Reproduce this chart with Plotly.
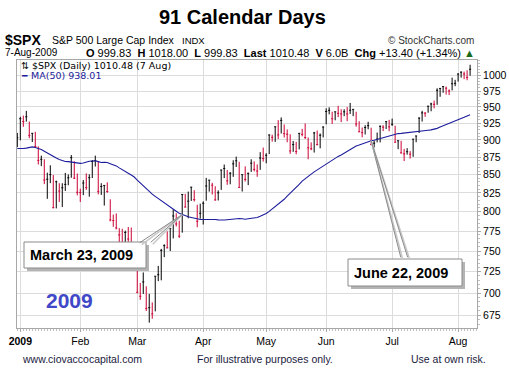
import math
import pandas as pd
import plotly.graph_objects as go

# ---------------- data ----------------
# closes from Oct 21 2008 to Dec 30 2008 (only used for the 50-day moving average)
prior_closes = [955.05, 896.78, 908.11, 876.77, 848.92, 940.51, 930.09, 954.09, 968.75,
                966.30, 1005.75, 952.77, 904.88, 930.99, 919.21, 898.95, 852.30, 911.29, 873.29,
                850.75, 859.12, 806.58, 752.44, 800.03, 851.81, 857.39, 887.68, 896.24,
                816.21, 848.81, 870.74, 845.22, 876.07, 909.70, 888.67, 899.24, 873.59, 879.73,
                868.57, 913.18, 904.42, 885.28, 887.88, 871.63, 863.16, 868.15, 872.80, 869.42, 890.64]

holidays = ["2009-01-01", "2009-01-19", "2009-02-16", "2009-04-10", "2009-05-25", "2009-07-03"]
dates = [d for d in pd.bdate_range("2008-12-31", "2009-08-07") if d.strftime("%Y-%m-%d") not in holidays]

closes = [903.25,
          931.80, 927.45, 934.70, 906.65, 909.73, 890.35, 870.26, 871.79, 842.62, 843.74,
          850.12, 805.22, 840.24, 827.50, 831.95, 836.57, 845.71, 874.09, 845.14, 825.88,
          825.44, 838.51, 832.23, 845.85, 868.60, 869.89, 827.16, 833.74, 835.19, 826.84,
          789.17, 788.42, 778.94, 770.05, 743.33, 773.14, 764.90, 752.83, 735.09,
          700.82, 696.33, 712.87, 682.55, 683.38, 676.53, 719.60, 721.36, 750.74, 756.55,
          753.89, 778.12, 794.35, 784.04, 768.54, 822.92, 806.12, 813.88, 832.86, 815.94, 787.53, 797.87,
          811.08, 834.38, 842.50, 835.48, 815.55, 825.16, 856.56, 858.73, 841.50, 852.06,
          865.30, 869.60, 832.39, 850.08, 843.55, 851.92, 866.23, 857.51, 855.16, 873.64, 872.81,
          877.52, 907.24, 903.80, 919.53, 907.39, 929.23, 909.24, 908.35, 883.92, 893.07,
          882.88, 909.71, 908.13, 903.47, 888.33, 887.00, 910.33, 893.06, 906.83, 919.14,
          942.87, 944.74, 931.76, 942.46, 940.09, 939.14, 942.43, 939.15, 944.89, 946.21,
          923.72, 911.97, 910.71, 918.37, 921.23, 893.04, 895.10, 900.94, 920.26, 918.90, 927.23, 919.32,
          923.33, 896.42, 898.72, 881.03, 879.56, 882.68, 879.13, 901.05, 905.84, 932.68,
          940.74, 940.38, 951.13, 954.58, 954.07, 976.29, 979.26, 982.18, 979.62, 975.15, 986.75, 987.48,
          1002.63, 1005.65, 1002.72, 997.08, 1010.48]

highs = [910.32,
         934.73, 936.63, 943.85, 927.45, 910.00, 911.93, 890.40, 877.02, 871.79, 852.85,
         863.23, 849.64, 841.72, 838.23, 838.22, 852.53, 850.45, 877.86, 868.89, 851.66,
         830.78, 842.60, 851.85, 850.55, 870.75, 877.02, 868.05, 838.22, 835.48, 839.43,
         816.38, 796.17, 797.58, 778.69, 777.85, 775.49, 780.12, 779.42, 751.27,
         729.57, 711.67, 724.12, 707.80, 699.09, 689.38, 719.60, 731.92, 752.63, 758.29,
         774.53, 778.12, 803.04, 797.92, 788.13, 823.37, 823.65, 826.78, 832.98, 828.68, 809.07, 810.48,
         813.62, 845.61, 842.50, 838.74, 834.07, 828.42, 856.91, 864.31, 856.53, 853.67,
         870.35, 875.63, 868.27, 850.09, 861.78, 852.87, 871.80, 868.83, 864.48, 882.06, 888.70,
         880.48, 907.85, 907.70, 919.78, 929.58, 933.77, 922.99, 915.57, 908.35, 898.36,
         896.97, 910.00, 916.39, 924.60, 903.47, 896.30, 911.76, 913.84, 909.45, 920.02,
         947.77, 949.38, 942.51, 942.47, 951.69, 946.33, 946.38, 949.77, 956.23, 946.30,
         942.45, 928.00, 918.44, 921.93, 927.09, 918.13, 898.69, 910.85, 921.42, 922.00, 927.99, 930.01,
         931.92, 921.24, 898.72, 898.60, 886.80, 887.86, 883.57, 901.05, 905.84, 933.95,
         943.96, 941.89, 951.62, 956.53, 959.83, 979.42, 979.79, 982.49, 982.18, 977.76, 996.68, 993.18,
         1003.61, 1007.12, 1006.64, 1008.92, 1018.00]

lows = [889.31,
        899.35, 919.53, 927.28, 902.37, 896.81, 888.31, 864.32, 862.02, 836.93, 817.04,
        838.34, 804.47, 804.30, 812.87, 806.07, 827.69, 835.40, 845.73, 844.15, 821.67,
        812.87, 821.98, 829.18, 819.91, 845.42, 861.51, 822.99, 822.30, 808.06, 825.21,
        787.42, 780.43, 777.03, 754.25, 742.37, 743.33, 752.89, 751.75, 734.52,
        699.70, 692.30, 698.96, 679.68, 666.79, 671.10, 679.28, 713.85, 714.76, 742.46,
        753.37, 749.93, 765.64, 780.79, 766.20, 772.88, 805.48, 791.37, 814.21, 813.43, 779.81, 790.88,
        783.32, 814.53, 826.70, 822.81, 814.53, 814.84, 829.07, 845.35, 836.03, 836.70,
        847.04, 860.87, 832.39, 826.83, 840.57, 835.58, 853.91, 854.65, 847.12, 856.85, 868.51,
        866.10, 879.21, 897.34, 896.99, 901.36, 909.42, 903.53, 896.46, 879.61, 882.52,
        878.94, 886.07, 905.22, 901.37, 871.84, 884.83, 881.46, 891.87, 887.60, 903.56,
        923.26, 938.46, 923.85, 929.32, 934.13, 926.67, 935.66, 927.97, 939.04, 935.66,
        919.65, 911.60, 903.78, 907.94, 915.80, 893.04, 888.86, 896.31, 896.27, 913.03, 916.18, 912.86,
        920.82, 896.42, 886.36, 879.93, 869.32, 878.45, 872.81, 875.32, 896.50, 910.15,
        927.45, 934.65, 940.99, 943.22, 947.75, 953.27, 965.95, 972.29, 969.41, 968.65, 976.09, 982.85,
        990.22, 996.68, 994.31, 992.49, 999.83]

y_ticks = [675, 700, 725, 750, 775, 800, 825, 850, 875, 900, 925, 950, 975, 1000]
callout_dates = ["2009-03-23", "2009-06-22"]
callout_texts = ["March 23, 2009", "June 22, 2009"]

# ---------------- derived ----------------
n = len(closes)
xs = list(range(n))
all_closes = prior_closes + closes
ma50 = pd.Series(all_closes).rolling(50).mean().tolist()[len(prior_closes):]

prev = [prior_closes[-1]] + closes[:-1]
up = [i for i in xs if closes[i] >= prev[i]]
dn = [i for i in xs if closes[i] < prev[i]]

tickvals, ticktext = [], []
for i, d in enumerate(dates):
    if i == 0:
        continue
    if dates[i - 1].month != d.month:
        tickvals.append(i)
        ticktext.append("<b>2009</b>" if d.month == 1 else d.strftime("%b"))

RED = "#cc0033"
NAVY = "#1c1c9c"

fig = go.Figure()
for idx, col in ((up, "#000000"), (dn, RED)):
    fig.add_trace(go.Ohlc(
        x=[xs[i] for i in idx], open=[closes[i] for i in idx], high=[highs[i] for i in idx],
        low=[lows[i] for i in idx], close=[closes[i] for i in idx],
        increasing=dict(line=dict(color=col, width=1)), decreasing=dict(line=dict(color=col, width=1)),
        tickwidth=0.34, hoverinfo="skip", showlegend=False))
fig.add_trace(go.Scatter(x=xs, y=ma50, mode="lines", line=dict(color=NAVY, width=1.1),
                         hoverinfo="skip", showlegend=False))

# ---------------- layout ----------------
L, R, T, B = 17, 477, 60, 328
W, H = 509, 372


def px(x):
    return (x - L) / (R - L)


def py(y):
    return (B - y) / (B - T)


FONT = "Arial, Liberation Sans, sans-serif"
ann = []
shapes = []


def text(x, y, s, size=11, color="#000", anchor="left", family=FONT):
    ann.append(dict(x=px(x), y=py(y), xref="paper", yref="paper", text=s, showarrow=False,
                    xanchor=anchor, yanchor="middle", font=dict(size=size, color=color, family=family)))


text(242, 17, "<b>91 Calendar Days</b>", 20, anchor="center")
text(3, 40, "<b>$SPX</b>", 14)
text(50, 40, "S&P 500 Large Cap Index", 10.5)
text(180, 40, "INDX", 9.5)
text(476, 40, "© StockCharts.com", 10, "#333", anchor="right")
text(3, 53, "7-Aug-2009", 10)
text(477, 53, "<b>O</b> 999.83  <b>H</b> 1018.00  <b>L</b> 999.83  <b>Last</b> 1010.48  <b>V</b> 6.0B  "
     "<b>Chg</b> +13.40 (+1.34%) <span style='color:#1a6a1a'>▲</span>", 11, anchor="right")
text(19, 66, "⇅ $SPX (Daily) 1010.48 (7 Aug)", 9.5, family="DejaVu Sans, sans-serif")
text(19, 76, "<b>━</b>", 9, NAVY, family="DejaVu Sans, sans-serif")
text(29, 76, "MA(50) 938.01", 9.5, NAVY, family="DejaVu Sans, sans-serif")
text(44, 300, "<b>2009</b>", 21, "#4048c8")
text(20, 359, "www.ciovaccocapital.com", 10.5, "#1a1a40")
text(195, 359, "For illustrative purposes only.", 10.5, "#1a1a40")
text(409, 359, "Use at own risk.", 10.5, "#1a1a40")

# callouts: pointer lines (head at the MA value of the date), then shadow and box
pos = {d.strftime("%Y-%m-%d"): i for i, d in enumerate(dates)}
boxes = [(24, 242, 122, 26), (348, 259, 114, 27)]
pointers = [[(-44, 29), (-33, 29)], [(30, 118), (37, 118)]]
for k, dstr in enumerate(callout_dates):
    i = pos[dstr]
    for (ax, ay) in pointers[k]:
        ann.append(dict(x=xs[i], y=math.log10(ma50[i]), xref="x", yref="y", ax=ax + 2, ay=ay + 2,
                        showarrow=True, arrowhead=0, arrowwidth=1.5, arrowcolor="#c8c8c8", text=""))
        ann.append(dict(x=xs[i], y=math.log10(ma50[i]), xref="x", yref="y", ax=ax, ay=ay,
                        showarrow=True, arrowhead=0, arrowwidth=1, arrowcolor="#8a8a8a", text=""))
for k, (bx, by, bw, bh) in enumerate(boxes):
    shapes.append(dict(type="rect", xref="paper", yref="paper", x0=px(bx + 3), x1=px(bx + bw + 3),
                       y0=py(by + bh + 3), y1=py(by + 3), fillcolor="#b4b4b4", line=dict(width=0),
                       layer="above"))
    shapes.append(dict(type="rect", xref="paper", yref="paper", x0=px(bx), x1=px(bx + bw),
                       y0=py(by + bh), y1=py(by), fillcolor="#ffffff",
                       line=dict(width=1, color="#8a8a8a"), layer="above"))
    ann.append(dict(x=px(bx + 4), y=py(by + bh / 2), xref="paper", yref="paper", xanchor="left",
                    yanchor="middle", text="<b>" + callout_texts[k] + "</b>", showarrow=False,
                    font=dict(size=14.5, color="#000", family=FONT)))

fig.update_layout(
    width=W, height=H, margin=dict(l=L, r=W - R, t=T, b=H - B, autoexpand=False),
    paper_bgcolor="white", plot_bgcolor="white", showlegend=False,
    annotations=ann, shapes=shapes,
    xaxis=dict(range=[-0.1, 153.3], tickvals=tickvals, ticktext=ticktext, showgrid=True,
               gridcolor="#dcdcdc", gridwidth=1, zeroline=False, showline=True, linecolor="#a8a8a8",
               mirror=True, ticks="outside", ticklen=3, tickcolor="#a8a8a8", automargin=False,
               minor=dict(dtick=1, ticks="outside", ticklen=2, tickcolor="#c0c0c0", showgrid=False),
               tickfont=dict(size=10.5, color="#000", family=FONT), rangeslider=dict(visible=False),
               fixedrange=True),
    yaxis=dict(type="log", range=[math.log10(661), math.log10(1026)], tickvals=y_ticks,
               ticktext=[str(v) for v in y_ticks], side="right", showgrid=True, gridcolor="#dcdcdc",
               zeroline=False, showline=True, linecolor="#a8a8a8", mirror=True, ticks="outside",
               ticklen=3, tickcolor="#a8a8a8", automargin=False,
               minor=dict(tickvals=list(range(665, 1026, 5)), ticks="outside", ticklen=2,
                          tickcolor="#c0c0c0", showgrid=False),
               tickfont=dict(size=10.5, color="#000", family=FONT), fixedrange=True),
)

fig.write_html("out.html", config={"displayModeBar": False},
               post_script="document.body.style.margin='0';document.body.style.overflow='hidden';")
